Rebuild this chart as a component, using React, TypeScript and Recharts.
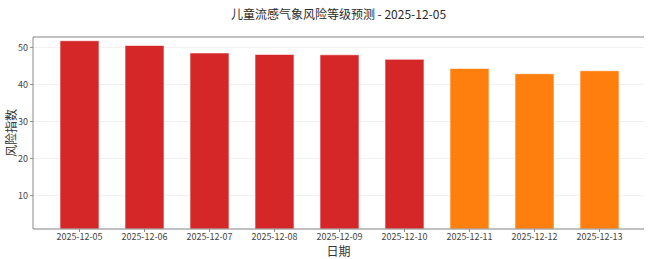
import { BarChart, Bar, XAxis, YAxis, CartesianGrid, Cell, ReferenceLine } from 'recharts';

const dates = [
  '2025-12-05', '2025-12-06', '2025-12-07', '2025-12-08', '2025-12-09',
  '2025-12-10', '2025-12-11', '2025-12-12', '2025-12-13',
];
const riskIndex = [51.8, 50.5, 48.5, 48.1, 48.0, 46.8, 44.3, 42.9, 43.7];
const riskLevel = ['high', 'high', 'high', 'high', 'high', 'high', 'mid', 'mid', 'mid'];
const yTicks = [10, 20, 30, 40, 50];

const levelColor: Record<string, string> = { high: '#d62728', mid: '#ff7f0e' };

const data = dates.map((d, i) => ({ date: d, value: riskIndex[i], level: riskLevel[i] }));

const FONT = '"Noto Sans CJK SC", "Noto Sans", sans-serif';
const SPINE = '#8a8a8a';
const Y_MAX = 52.8;

export default function App() {
  return (
    <div style={{ position: 'absolute', left: 0, top: 0, width: 650, height: 259, fontFamily: FONT, background: '#fff' }}>
      <div style={{ position: 'absolute', left: 33, width: 611, top: 5, textAlign: 'center', fontSize: 12, color: '#2a2a2a' }}>
        儿童流感气象风险等级预测 - 2025-12-05
      </div>
      <div
        style={{
          position: 'absolute', left: 10, top: 133, fontSize: 12, color: '#333',
          transform: 'translate(-50%, -50%) rotate(-90deg)', whiteSpace: 'nowrap',
        }}
      >
        风险指数
      </div>
      <div style={{ position: 'absolute', left: 33, width: 611, top: 242, textAlign: 'center', fontSize: 12, color: '#333' }}>
        日期
      </div>
      <BarChart
        width={650}
        height={259}
        data={data}
        margin={{ top: 37, right: 6, bottom: 0, left: 0 }}
        barCategoryGap="20%"
      >
        <CartesianGrid vertical={false} stroke="#ececec" strokeWidth={0.8} />
        <XAxis
          dataKey="date"
          height={30}
          padding={{ left: 14, right: 12 }}
          interval={0}
          tickSize={3}
          tick={{ fontSize: 9, fill: '#444', fontFamily: FONT }}
          axisLine={{ stroke: SPINE }}
          tickLine={{ stroke: SPINE }}
        />
        <YAxis
          domain={[1, Y_MAX]}
          ticks={yTicks}
          width={33}
          tickSize={3}
          tick={{ fontSize: 9, fill: '#444', fontFamily: FONT }}
          axisLine={{ stroke: SPINE }}
          tickLine={{ stroke: SPINE }}
        />
        <YAxis yAxisId="r" orientation="right" domain={[1, Y_MAX]} width={0} tick={false} tickLine={false} axisLine={{ stroke: SPINE }} />
        <Bar dataKey="value" isAnimationActive={false} stroke="#fff" strokeOpacity={0.6} strokeWidth={1}>
          {data.map((d) => (
            <Cell key={d.date} fill={levelColor[d.level]} />
          ))}
        </Bar>
        <ReferenceLine y={Y_MAX} stroke={SPINE} ifOverflow="visible" />
      </BarChart>
    </div>
  );
}
